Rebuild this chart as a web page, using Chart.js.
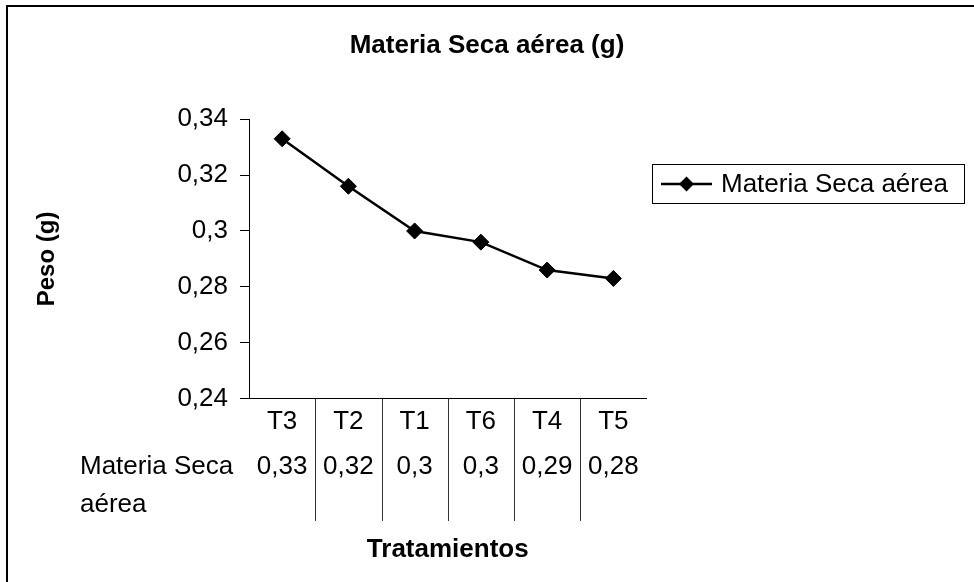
<!DOCTYPE html>
<html>
<head>
<meta charset="utf-8">
<script src="https://cdn.jsdelivr.net/npm/chart.js@4.4.1/dist/chart.umd.min.js"></script>
<style>
  html, body { margin: 0; padding: 0; background: #fff; }
  #wrap { width: 974px; height: 582px; }
</style>
</head>
<body>
<div id="wrap"><canvas id="myChart" width="974" height="582"></canvas></div>
<script>
const categories = ["T3", "T2", "T1", "T6", "T4", "T5"];
const materiaSeca = [0.333, 0.316, 0.300, 0.296, 0.286, 0.283];
const yTicks = [0.24, 0.26, 0.28, 0.3, 0.32, 0.34];
const seriesLabel = "Materia Seca aérea";
const tableRowLabel = ["Materia Seca", "aérea"];

const fmt = (v, d) => Number(v.toFixed(d)).toString().replace(".", ",");

Chart.defaults.font.family = "'Liberation Sans', Arial, sans-serif";
Chart.defaults.color = "#000";

// data table under the x axis, legend box and the outer frame
const tablePlugin = {
  id: "dataTable",
  afterDraw(chart) {
    const { ctx, chartArea } = chart;
    const x = chart.scales.x;
    ctx.save();

    // outer frame (only top and left show in the picture)
    ctx.strokeStyle = "#000";
    ctx.lineWidth = 2;
    ctx.beginPath();
    ctx.moveTo(974, 6);
    ctx.lineTo(7, 6);
    ctx.lineTo(7, 582);
    ctx.stroke();

    // column separators
    ctx.lineWidth = 1;
    ctx.strokeStyle = "#333";
    for (let i = 0; i < categories.length - 1; i++) {
      const px = Math.round((x.getPixelForValue(i) + x.getPixelForValue(i + 1)) / 2) + 0.5;
      ctx.beginPath();
      ctx.moveTo(px, chartArea.bottom);
      ctx.lineTo(px, 521);
      ctx.stroke();
    }

    ctx.font = "26px 'Liberation Sans', Arial, sans-serif";
    ctx.fillStyle = "#000";
    ctx.textBaseline = "middle";
    ctx.textAlign = "center";
    materiaSeca.forEach((v, i) => {
      ctx.fillText(fmt(v, 2), x.getPixelForValue(i), 467);
    });
    ctx.textAlign = "left";
    ctx.fillText(tableRowLabel[0], 80, 467);
    ctx.fillText(tableRowLabel[1], 80, 505);

    // legend
    ctx.strokeStyle = "#000";
    ctx.lineWidth = 1;
    ctx.strokeRect(652.5, 164.5, 312, 39);
    ctx.lineWidth = 2.5;
    ctx.beginPath();
    ctx.moveTo(661, 184);
    ctx.lineTo(712, 184);
    ctx.stroke();
    ctx.beginPath();
    ctx.moveTo(686.5, 176.5);
    ctx.lineTo(694, 184);
    ctx.lineTo(686.5, 191.5);
    ctx.lineTo(679, 184);
    ctx.closePath();
    ctx.fill();
    ctx.fillText(seriesLabel, 721, 185);
    ctx.restore();
  }
};

const ctx = document.getElementById("myChart").getContext("2d");

const myChart = new Chart(ctx, {
  type: "line",
  data: {
    labels: categories,
    datasets: [
      {
        label: seriesLabel,
        data: materiaSeca,
        borderColor: "#000",
        backgroundColor: "#000",
        borderWidth: 2.5,
        tension: 0,
        pointStyle: "rectRot",
        pointRadius: 8,
        pointHoverRadius: 8,
        pointBackgroundColor: "#000",
        pointBorderColor: "#000",
        pointBorderWidth: 1,
      },
    ],
  },
  options: {
    responsive: false,
    animation: false,
    layout: { padding: { left: 0, right: 0, top: 0, bottom: 15 } },
    plugins: {
      legend: { display: false },
      tooltip: { enabled: false },
      title: {
        display: true,
        text: "Materia Seca aérea (g)",
        font: { size: 26, weight: "bold" },
        color: "#000",
        padding: { top: 30, bottom: 58 },
      },
    },
    scales: {
      x: {
        type: "category",
        offset: true,
        grid: { drawOnChartArea: false, drawTicks: false },
        border: { display: true, color: "#000", width: 1 },
        ticks: { font: { size: 26 }, padding: 8, maxRotation: 0, autoSkip: false },
        title: {
          display: true,
          text: "Tratamientos",
          font: { size: 26, weight: "bold" },
          padding: { top: 88, bottom: 2 },
        },
      },
      y: {
        min: 0.24,
        max: 0.34,
        afterBuildTicks: (s) => { s.ticks = yTicks.map((v) => ({ value: v })); },
        afterFit: (s) => { s.width = 249; },
        grid: { drawOnChartArea: false, drawTicks: true, tickLength: 9, color: "#000" },
        border: { display: true, color: "#000", width: 1 },
        ticks: { font: { size: 26 }, padding: 12, callback: (v) => fmt(v, 2) },
        title: {
          display: true,
          text: "Peso (g)",
          font: { size: 24, weight: "bold" },
          padding: { top: 33, bottom: 0 },
        },
      },
      // empty axis on the right keeps room for the legend
      yRight: {
        type: "linear",
        position: "right",
        display: true,
        grid: { display: false },
        border: { display: false },
        ticks: { display: false },
        afterFit: (s) => { s.width = 327.5; },
      },
    },
  },
  plugins: [tablePlugin],
});
</script>
</body>
</html>
